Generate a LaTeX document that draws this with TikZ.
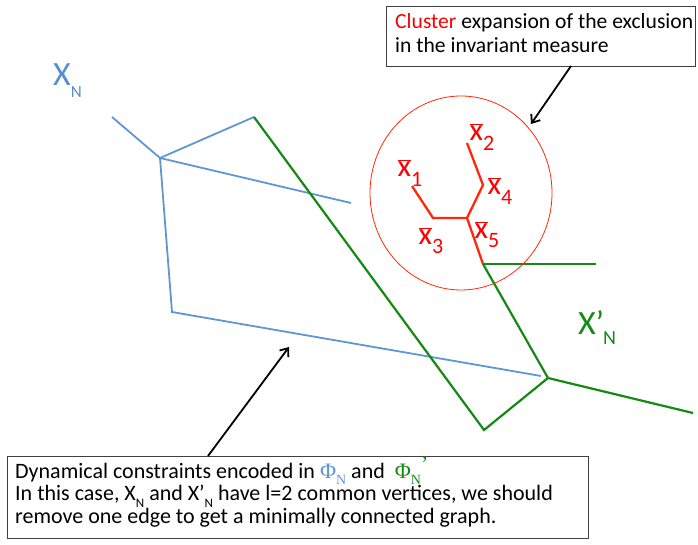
\documentclass[tikz,border=0pt]{standalone}
\usepackage{fontspec}
\setmainfont{Carlito}
\newfontfamily\phifont{Liberation Serif}
\usetikzlibrary{arrows.meta}
\definecolor{bl}{RGB}{95,150,212}
\definecolor{bltxt}{RGB}{85,142,213}
\definecolor{gr}{RGB}{20,138,20}
\definecolor{rd}{RGB}{255,40,10}
\newcommand\xb[1]{$\overline{\hbox{x}}$\raisebox{-0.3em}{\fontsize{22}{22}\selectfont #1}}
\newcommand\sbN[1]{\smash{\raisebox{-0.3em}{\fontsize{#1}{#1}\selectfont N}}}
\tikzset{
  bline/.style={draw=bl,line width=1.8pt},
  gline/.style={draw=gr,line width=2.2pt},
  rline/.style={draw=rd,line width=2.3pt,line join=miter},
  xlab/.style={text=red,font=\fontsize{31}{32}\selectfont,inner sep=0pt},
  tbox/.style={draw=black!75,line width=0.9pt,fill=white,anchor=north west,inner sep=0pt,minimum width=#1},
  txt/.style={anchor=base west,inner sep=0pt,align=left},
  callout/.style={draw=black,line width=1.8pt,-{Straight Barb[length=7pt,width=11pt,line width=1.8pt]}},
}
\begin{document}
\begin{tikzpicture}[x=1pt,y=-1pt]
\useasboundingbox (0,0) rectangle (698,545);
% blue graph
\coordinate (A) at (112,117);
\coordinate (B) at (160,158);
\coordinate (C) at (254,117);
\coordinate (D) at (351,203);
\coordinate (E) at (172,312);
\coordinate (F) at (541,376);
\draw[bline] (A) -- (B) -- (C);
\draw[bline] (B) -- (D);
\draw[bline] (B) -- (E) -- (F);
% green graph
\coordinate (G) at (254,117);
\coordinate (H) at (483,264);
\coordinate (I) at (596,264);
\coordinate (J) at (548,378);
\coordinate (K) at (693,413);
\coordinate (L) at (484,430);
\draw[gline,line join=miter] (G) -- (L) -- (J) -- (K);
\draw[gline] (H) -- (J);
\draw[gline] (H) -- (I);
% red tree
\coordinate (r1) at (412,186);
\coordinate (r3) at (433,218);
\coordinate (r5) at (467,218);
\coordinate (r2) at (467,143);
\coordinate (r4) at (483,185);
\draw[rline] (r1) -- (r3) -- (r5);
\draw[rline] (r2) -- (r4) -- (r5) -- (H);
% ellipse
\coordinate (ell) at (461,193);
\draw[rd,line width=0.8pt] (ell) ellipse [x radius=91, y radius=97];
% red labels
\node[xlab] (l1) at (410,173) {\xb{1}};
\node[xlab] (l2) at (482,137) {\xb{2}};
\node[xlab] (l4) at (500,191) {\xb{4}};
\node[xlab] (l3) at (431,241) {\xb{3}};
\node[xlab] (l5) at (487,235) {\xb{5}};
% graph labels
\node[text=bltxt,font=\fontsize{34}{36}\selectfont,inner sep=0pt,anchor=base west] (XN) at (53,86) {X\raisebox{-0.35em}{\fontsize{17}{18}\selectfont N}};
\node[text=gr,font=\fontsize{34}{36}\selectfont,inner sep=0pt,anchor=base west] (XpN) at (578,334) {X’\kern-1pt\raisebox{-0.3em}{\fontsize{20}{20}\selectfont N}};
% top box
\node[tbox=309pt,minimum height=60pt] (topbox) at (386,6) {};
\node[txt,font=\fontsize{21.6}{24}\selectfont] (toptxt) at (395,53) {\textcolor{red}{Cluster} expansion of the exclusion\\in the invariant measure};
\coordinate (ta) at (571,66);
\coordinate (tt) at (531,124);
\draw[callout] (ta) -- (tt);
% bottom box
\node[tbox=581pt,minimum height=82pt] (botbox) at (7,456) {};
\node[txt,font=\fontsize{22}{22.5}\selectfont] (bottxt) at (15,523) {Dynamical constraints encoded in \textcolor{bl}{\phifont Φ\sbN{14}} and \ \textcolor{gr}{\phifont Φ\sbN{14}\smash{\raisebox{0.3em}{’}}}\\In this case, X\sbN{13} and X’\sbN{13} have l=2 common vertices, we should\\remove one edge to get a minimally connected graph.};
\coordinate (ba) at (208,456);
\coordinate (bt) at (289,347);
\draw[callout] (ba) -- (bt);
\end{tikzpicture}
\end{document}
